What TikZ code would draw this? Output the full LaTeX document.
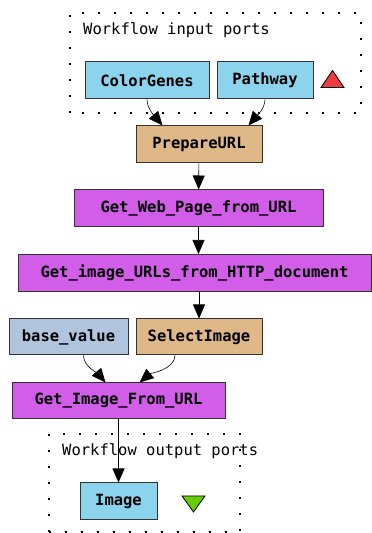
\documentclass[tikz,border=0pt]{standalone}
\usepackage{fontspec}
\setmonofont{DejaVu Sans Mono}
\usetikzlibrary{arrows.meta}
\definecolor{portblue}{RGB}{140,212,238}
\definecolor{proctan}{RGB}{222,184,135}
\definecolor{procpurple}{RGB}{210,93,232}
\definecolor{constblue}{RGB}{176,196,222}
\definecolor{uptri}{RGB}{240,60,60}
\definecolor{downtri}{RGB}{102,204,0}
\tikzstyle{proc} = [rectangle, draw=black!80, line width=1pt, inner sep=0pt,
text centered, minimum height=37pt, font=\fontsize{15.5}{18}\selectfont\ttfamily\bfseries]
\tikzstyle{port} = [proc, fill=portblue]
\tikzstyle{beanshell} = [proc, fill=proctan]
\tikzstyle{service} = [proc, fill=procpurple]
\tikzstyle{constant} = [proc, fill=constblue]
\tikzstyle{portbox} = [draw, line width=1.3pt, dash pattern=on 2pt off 14pt]
\tikzstyle{boxtitle} = [anchor=west, inner sep=0pt, font=\fontsize{15.5}{18}\selectfont\ttfamily]
\tikzstyle{line} = [draw, line width=0.6pt, -{Triangle[length=14pt,width=12pt]}]

\begin{document}
\begin{tikzpicture}[x=1pt, y=1pt]
	\useasboundingbox (0,0) rectangle (372,533);
	% Workflow input ports
	\draw [portbox] (70,420) rectangle (361,520);
	\node [boxtitle] (inTitle) at (83,503) {Workflow input ports};
	\node [port, minimum width=124pt] (colorGenes) at (147,452.5) {ColorGenes};
	\node [port, minimum width=96pt] (pathway) at (265,452.5) {Pathway};
	\draw [fill=uptri, line width=0.8pt] (321,445.5) -- (344,445.5) -- (332.5,462.5) -- cycle;
	%
	\node [beanshell, minimum width=126pt] (prepareURL) at (199,388.5) {PrepareURL};
	\node [service, minimum width=249pt] (getWebPage) at (198.5,324.5) {Get\_Web\_Page\_from\_URL};
	\node [service, minimum width=353pt] (getImageURLs) at (194.5,260) {Get\_image\_URLs\_from\_HTTP\_document};
	\node [constant, minimum width=119pt, minimum height=36pt] (baseValue) at (68.5,196) {base\_value};
	\node [beanshell, minimum width=126pt, minimum height=36pt] (selectImage) at (199,196) {SelectImage};
	\node [service, minimum width=213pt, minimum height=36pt] (getImage) at (118.5,132) {Get\_Image\_From\_URL};
	% Workflow output ports
	\draw [portbox] (49,1) rectangle (240,99);
	\node [boxtitle] (outTitle) at (62,82) {Workflow output ports};
	\node [port, minimum width=77pt] (image) at (118.5,31.5) {Image};
	\draw [fill=downtri, line width=0.8pt] (182,37) -- (205,37) -- (193.5,21) -- cycle;
	%
	\path [line] (colorGenes.south) to[out=-90, in=130, looseness=0.8] ([xshift=27pt]prepareURL.north west);
	\path [line] (pathway.south) to[out=-90, in=50, looseness=0.8] ([xshift=-14pt]prepareURL.north east);
	\path [line] (prepareURL) -- (getWebPage);
	\path [line] (getWebPage) -- (getImageURLs.north -| getWebPage);
	\path [line] (getImageURLs.south -| selectImage) -- (selectImage);
	\path [line] ([xshift=15pt]baseValue.south) to[out=-90, in=130, looseness=0.8] ([xshift=-13pt]getImage.north);
	\path [line] ([xshift=-24pt]selectImage.south) to[out=-90, in=40, looseness=0.8] ([xshift=21pt]getImage.north);
	\path [line] (getImage) -- (image);
\end{tikzpicture}
\end{document}
